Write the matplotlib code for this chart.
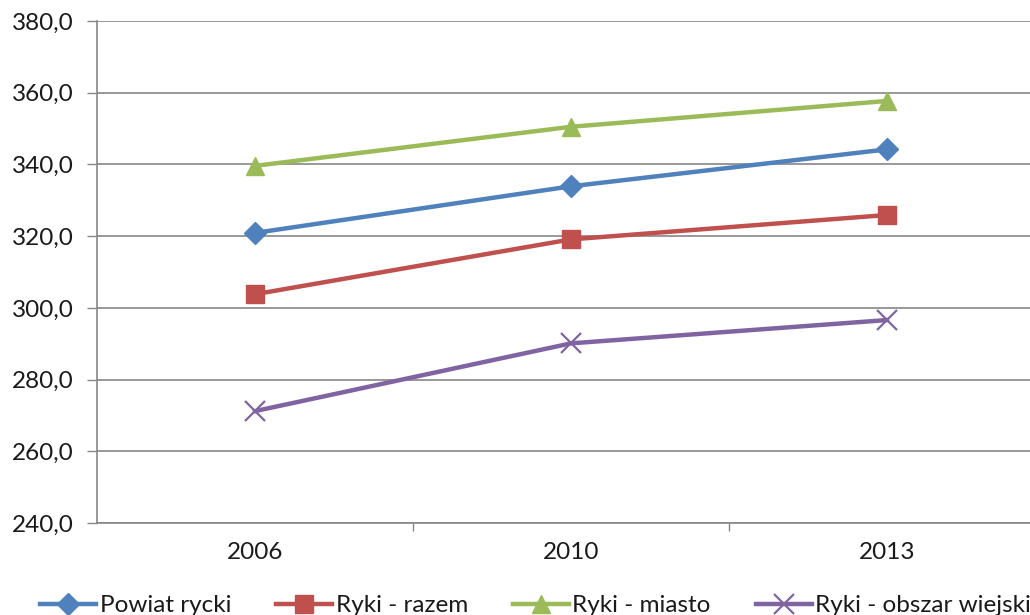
import matplotlib.pyplot as plt
from matplotlib.ticker import FuncFormatter, FixedLocator

years = ["2006", "2010", "2013"]
powiat_rycki = [320.9, 333.9, 344.2]
ryki_razem = [303.8, 319.1, 325.9]
ryki_miasto = [339.6, 350.5, 357.7]
ryki_wiejski = [271.2, 290.1, 296.6]

plt.rcParams['font.family'] = ['Lato', 'DejaVu Sans']

fig = plt.figure(figsize=(10.3, 6.15), dpi=100)
ax = fig.add_axes([97 / 1030, 92 / 615, 948 / 1030, 502 / 615])

x = range(len(years))
series = [
    (powiat_rycki, "Powiat rycki", "#4F81BD", "D", 11.5, {}),
    (ryki_razem, "Ryki - razem", "#C0504D", "s", 12.5, {}),
    (ryki_miasto, "Ryki - miasto", "#9BBB59", "^", 13.5, {}),
    (ryki_wiejski, "Ryki - obszar wiejski", "#8064A2", "x", 14, {"markeredgewidth": 1.6}),
]
for vals, label, color, marker, ms, extra in series:
    ax.plot(x, vals, color=color, linewidth=3.2, marker=marker, markersize=ms,
            label=label, **extra)

ax.set_xlim(-0.5, 2.5)
ax.set_ylim(240, 380)
ax.set_yticks(range(240, 381, 20))
ax.yaxis.set_major_formatter(FuncFormatter(lambda v, p: f"{v:.1f}".replace(".", ",")))
ax.grid(axis='y', color='#868686', linewidth=1.2)
ax.set_axisbelow(True)

# category labels centred, ticks on boundaries
ax.set_xticks(list(x))
ax.set_xticklabels(years)
ax.tick_params(axis='x', which='major', length=0, pad=14, labelsize=17.5, colors='#1a1a1a')
ax.xaxis.set_minor_locator(FixedLocator([0.5, 1.5, 2.5]))
ax.tick_params(axis='x', which='minor', length=6, color='#868686', width=1)
ax.tick_params(axis='y', length=7, color='#868686', width=1, labelsize=17.5, pad=10,
               labelcolor='#1a1a1a')

for s in ['top', 'right']:
    ax.spines[s].set_visible(False)
for s in ['left', 'bottom']:
    ax.spines[s].set_color('#868686')
    ax.spines[s].set_linewidth(1.2)

leg = fig.legend(loc='center', bbox_to_anchor=(0.52, 0.015), ncol=4, frameon=False,
                 fontsize=17.5, handlelength=2.3, columnspacing=1.85, handletextpad=0.15)
for t in leg.get_texts():
    t.set_color('#1a1a1a')

plt.savefig('out.png', dpi=100)
plt.close(fig)
